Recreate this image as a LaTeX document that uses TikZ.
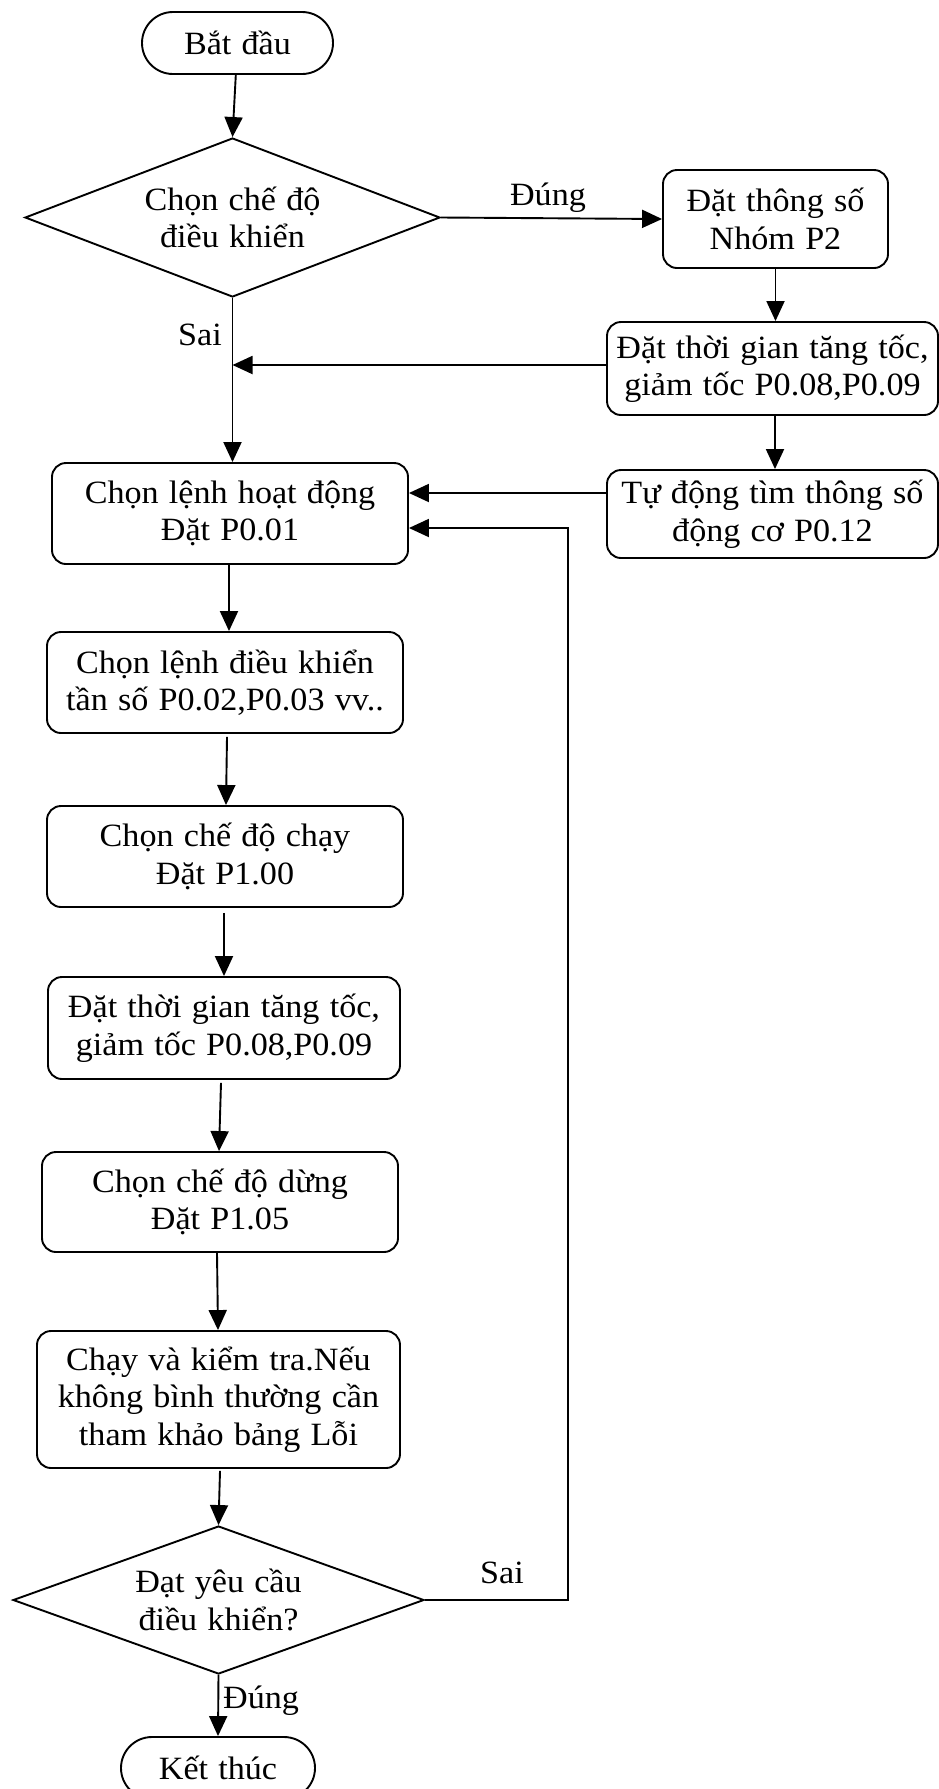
\documentclass[tikz,border=0pt]{standalone}
\usepackage{fontspec}
\setmainfont[FakeStretch=1.05,WordSpace=1.2]{Liberation Serif}
\usetikzlibrary{shapes.geometric,arrows.meta,calc}
\begin{document}
\begin{tikzpicture}[x=1pt,y=-1pt,
  every node/.style={font=\fontsize{32.5}{37.5}\selectfont},
  box/.style={draw, line width=1.9pt, rounded corners=14pt, align=center, inner sep=1pt},
  term/.style={draw, line width=1.9pt, rounded corners=31pt, minimum width=191pt, minimum height=62pt, inner sep=1pt},
  dec/.style={draw, diamond, aspect=2.6, line width=1.9pt, align=center, inner sep=0pt},
  arr/.style={line width=1.9pt, -{Triangle[length=20pt,width=18pt]}},
  lbl/.style={inner sep=0pt}]
\useasboundingbox[fill=white] (0,0) rectangle (939,1789);

\node[term] (start) at (237.5,43) {Bắt đầu};
\node[dec, minimum width=415pt, minimum height=159pt] (d1) at (232.5,217.5) {Chọn chế độ\\điều khiển};
\node[box, minimum width=225pt, minimum height=98pt] (p2) at (775.5,219) {Đặt thông số\\Nhóm P2};
\node[box, minimum width=331pt, minimum height=93pt] (tt) at (772.5,368.5) {Đặt thời gian tăng tốc,\\giảm tốc P0.08,P0.09};
\node[box, minimum width=331pt, minimum height=88pt] (td) at (772.5,514) {Tự động tìm thông số\\động cơ P0.12};
\node[box, minimum width=356pt, minimum height=101pt] (b1) at (230,513.5) {Chọn lệnh hoạt động\\Đặt P0.01};
\node[box, minimum width=356pt, minimum height=101pt] (b2) at (225,682.5) {Chọn lệnh điều khiển\\tần số P0.02,P0.03 vv..};
\node[box, minimum width=356pt, minimum height=101pt] (b3) at (225,856.5) {Chọn chế độ chạy\\Đặt P1.00};
\node[box, minimum width=352pt, minimum height=102pt] (b4) at (224,1028) {Đặt thời gian tăng tốc,\\giảm tốc P0.08,P0.09};
\node[box, minimum width=356pt, minimum height=100pt] (b5) at (220,1202) {Chọn chế độ dừng\\Đặt P1.05};
\node[box, minimum width=363pt, minimum height=137pt] (b6) at (218.5,1399.5) {Chạy và kiểm tra.Nếu\\không bình thường cần\\tham khảo bảng Lỗi};
\node[dec, minimum width=411pt, minimum height=148pt] (d2) at (218.5,1600) {Đạt yêu cầu\\điều khiển?};
\node[term, minimum width=194pt] (stop) at (218,1768) {Kết thúc};

\draw[arr] (start) -- (d1.north);
\draw[arr] (d1.east) -- (p2.west);
\node[lbl, anchor=base] (lDung1) at (548,205) {Đúng};
\draw[arr] (p2.south) -- (p2.south |- tt.north);
\draw[arr] ([xshift=2.5pt]tt.south) -- ([xshift=2.5pt]td.north);
\draw[arr] ([yshift=3.5pt]tt.west) -- ([yshift=3.5pt]tt.west -| d1.south);
\draw[arr] (d1.south) -- (d1.south |- b1.north);
\node[lbl, anchor=base] (lSai1) at (200,345) {Sai};
\draw[arr] ([yshift=21pt]td.west) -- ([yshift=21pt]td.west -| b1.east);
\draw[arr] ([xshift=-1pt]b1.south) -- ([xshift=4pt]b2.north);
\draw[arr] ([xshift=2pt,yshift=-3pt]b2.south) -- ([xshift=1pt]b3.north);
\draw[arr] ([xshift=-1pt,yshift=-5pt]b3.south) -- (b4.north);
\draw[arr] ([xshift=-3pt,yshift=-3pt]b4.south) -- ([xshift=-1pt]b5.north);
\draw[arr] ([xshift=-3pt]b5.south) -- ([xshift=-0.5pt]b6.north);
\draw[arr] ([xshift=1.5pt,yshift=-2pt]b6.south) -- (d2.north);
\draw[arr] (d2.south) -- (stop.north);
\node[lbl, anchor=base west] (lDung2) at (223,1708) {Đúng};
\coordinate (lp) at (568,528);
\draw[arr] (d2.east) -| (lp) -- (lp -| b1.east);
\node[lbl, anchor=base] (lSai2) at (502,1583) {Sai};
\end{tikzpicture}
\end{document}
